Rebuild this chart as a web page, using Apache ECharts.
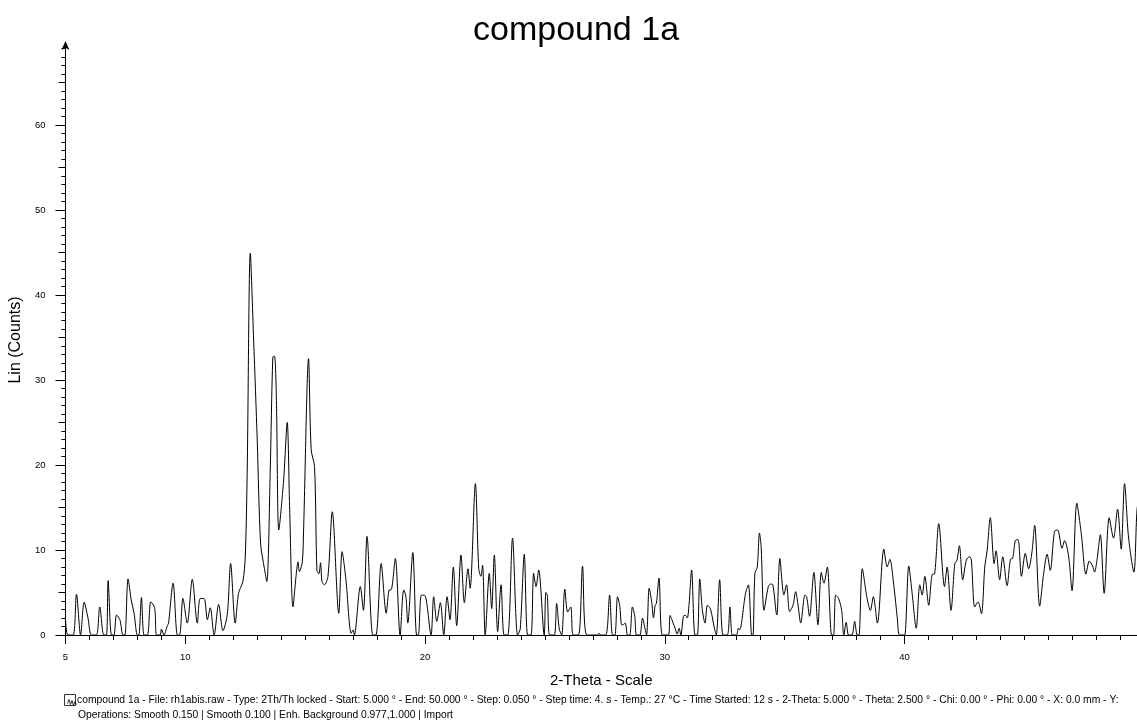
<!DOCTYPE html>
<html>
<head>
<meta charset="utf-8">
<script src="https://cdn.jsdelivr.net/npm/echarts@6/dist/echarts.min.js"></script>
<style>
html,body{margin:0;padding:0;background:#fff;}
#chart{width:1137px;height:724px;}
</style>
</head>
<body>
<div id="chart"></div>
<script>
// 2-Theta positions (degrees) of the traced pattern points
const twoTheta = [
5.00,5.10,5.32,5.46,5.63,5.78,5.94,6.08,6.29,6.43,6.60,6.71,6.78,6.92,7.02,7.13,7.27,7.40,7.48,7.61,
7.75,7.86,8.00,8.06,8.17,8.28,8.42,8.56,8.72,8.80,8.95,9.00,9.11,9.25,9.30,9.49,9.67,9.76,9.90,10.08,
10.29,10.50,10.62,10.78,10.92,11.04,11.20,11.39,11.57,11.75,11.89,12.08,12.22,12.40,12.50,12.58,12.71,12.85,13.00,13.14,
13.30,13.40,13.54,13.65,13.72,13.80,13.90,14.10,14.25,14.35,14.49,14.63,14.70,14.76,14.88,14.93,15.14,15.25,15.39,15.49,
15.57,15.64,15.70,15.80,15.95,16.13,16.40,16.54,16.70,16.92,17.00,17.05,17.30,17.43,17.58,17.82,17.95,18.17,18.38,18.51,
18.58,18.76,18.96,19.11,19.20,19.28,19.49,19.65,19.72,19.85,20.01,20.25,20.36,20.49,20.64,20.78,20.92,21.04,21.18,21.32,
21.50,21.64,21.79,21.88,22.10,22.24,22.33,22.40,22.51,22.68,22.78,22.89,23.03,23.17,23.30,23.45,23.65,23.86,23.97,24.14,
24.28,24.42,24.53,24.63,24.74,24.97,25.04,25.10,25.20,25.39,25.49,25.60,25.70,25.83,25.95,26.08,26.18,26.40,26.57,26.75,
27.20,27.26,27.32,27.54,27.70,27.82,27.92,28.03,28.12,28.20,28.25,28.35,28.45,28.54,28.65,28.75,28.82,28.96,29.07,29.13,
29.24,29.35,29.46,29.53,29.60,29.65,29.76,29.90,30.15,30.22,30.35,30.43,30.52,30.60,30.67,30.80,30.87,30.94,31.01,31.12,
31.26,31.36,31.46,31.57,31.68,31.78,31.90,31.99,32.07,32.15,32.29,32.43,32.61,32.72,32.82,32.99,33.07,33.12,33.37,33.49,
33.63,33.68,33.76,33.86,33.95,34.02,34.14,34.32,34.42,34.51,34.65,34.68,34.80,34.97,35.08,35.21,35.35,35.46,35.57,35.67,
35.85,35.92,36.04,36.22,36.39,36.53,36.64,36.78,36.96,37.04,37.13,37.25,37.38,37.47,37.57,37.67,37.81,37.92,38.03,38.10,
38.24,38.44,38.58,38.70,38.87,39.14,39.28,39.39,39.56,39.70,39.79,39.93,40.01,40.18,40.32,40.49,40.64,40.74,40.85,41.01,
41.15,41.26,41.43,41.67,41.78,41.94,42.10,42.19,42.29,42.43,42.58,42.71,42.79,42.93,43.07,43.21,43.35,43.45,43.58,43.74,
43.82,43.97,44.10,44.28,44.42,44.51,44.65,44.74,44.88,45.04,45.18,45.32,45.43,45.64,45.80,45.95,46.08,46.26,46.39,46.57,
46.68,46.85,46.99,47.19,47.38,47.57,47.71,47.85,47.93,48.03,48.17,48.33,48.54,48.72,48.89,49.04,49.18,49.35,49.57,49.70,
49.80
];
// Intensity (Lin counts) at those positions
const counts = [
2.0,0,0,4.8,0,3.85,2.0,0,0,3.3,0,0,6.4,0,0,2.35,1.8,0,0,6.6,
4.0,2.6,0,0,4.4,0,0,3.9,3.2,0,0,0.7,0,1.1,1.4,6.1,0,0,4.3,1.4,
6.55,1.4,4.3,4.3,1.8,3.2,0,3.6,0.5,2.4,8.4,1.4,4.9,6.3,9.2,19,44.9,34.7,22.9,10.8,
7.8,6.3,19,32.7,32.8,27.6,12.35,18.2,25,15.1,3.3,7.25,8.6,7.45,8.6,12,32.5,21.8,19.8,7.6,
7.2,8.5,6.3,5.9,6.9,14.5,2.55,9.8,6.5,0.2,0.6,0,5.7,2.9,11.6,0,0,8.4,2.55,5.3,
5.3,9.0,0,5.3,4.6,1.4,9.7,0,0,4.7,4.6,0,4.5,1.6,3.8,0,4.5,1.8,8.0,1.1,
9.4,3.8,7.8,5.5,17.8,7.8,6.9,8.2,0,7.25,3.1,9.4,0.4,5.9,0,0,11.4,0,0.7,9.5,
0,0,7.25,5.7,7.65,0,5.0,4.7,0,0,3.7,0.7,0,5.4,2.7,3.3,0,0,8.1,0,
0,0.2,0,0,4.7,0,0,4.5,3.5,1.2,1.2,1.4,0,0,3.3,2.2,0,0,2.0,1.4,
0,5.5,3.8,2.0,3.5,3.7,6.7,0,0,2.3,1.4,0.8,0.1,0.8,0,2.3,2.3,2.0,3.5,7.65,
0,0,6.6,2.9,1.4,3.5,3.1,2.0,0.8,0,6.5,0,0,3.3,0,0,0.8,0.6,4.9,5.9,
0,0,7.25,8.0,12.0,10.4,2.9,5.7,6.0,5.9,2.55,2.35,9.0,4.7,5.9,2.75,3.5,5.1,3.3,1.4,
4.7,4.5,2.2,7.35,1.2,7.35,6.1,8.0,0,0,4.7,4.3,2.9,0,1.5,0,0,1.6,0,0,
7.8,4.3,2.9,4.5,1.4,10.1,8.0,8.9,5.7,2.0,0,0,0,8.1,4.9,0.8,5.9,4.7,6.9,3.5,
7.1,7.2,13.1,5.7,8.0,2.9,8.4,8.8,10.5,6.5,8.8,9.2,8.8,3.3,3.9,2.5,8.0,10.0,13.8,8.4,
9.9,6.5,9.2,5.8,8.9,9.0,11.2,11.2,6.9,9.6,7.8,9.8,12.9,3.4,7.1,9.5,7.6,12.2,12.35,10.2,
11.1,9.2,5.2,15.5,11.8,7.15,8.7,8.1,7.4,8.8,11.8,4.9,13.8,11.4,14.8,10.1,17.8,11.4,7.4,14.7,
16.5
];
const xLabelValues = [5,10,20,30,40];
const yLabelValues = [0,10,20,30,40,50,60];
const titleText = 'compound 1a';
const xName = '2-Theta - Scale';
const yName = 'Lin (Counts)';
const legendLine1 = 'compound 1a - File: rh1abis.raw - Type: 2Th/Th locked - Start: 5.000 ° - End: 50.000 ° - Step: 0.050 ° - Step time: 4. s - Temp.: 27 °C - Time Started: 12 s - 2-Theta: 5.000 ° - Theta: 2.500 ° - Chi: 0.00 ° - Phi: 0.00 ° - X: 0.0 mm - Y:';
const legendLine2 = 'Operations: Smooth 0.150 | Smooth 0.100 | Enh. Background 0.977,1.000 | Import';

const X_MIN = 5, X_MAX = 49.7, Y_MIN = 0, Y_MAX = 69.4;
const FONT = '"Liberation Sans", Arial, Helvetica, sans-serif';

const xUnitTicks = []; for (let v = 5; v <= 49; v++) xUnitTicks.push(v);
const yUnitTicks = []; for (let v = 0; v <= 69; v++) yUnitTicks.push(v);
const yHalfTicks = []; for (let v = 5; v <= 65; v += 10) yHalfTicks.push(v);

const data = twoTheta.map((x, i) => [x, counts[i]]);

const chart = echarts.init(document.getElementById('chart'), null, {renderer: 'canvas'});
const hiddenAxisBase = {
  axisLine: {show: false}, splitLine: {show: false}, axisLabel: {show: false}
};
chart.setOption({
  animation: false,
  backgroundColor: '#ffffff',
  title: {
    text: titleText, left: 468, top: 9,
    textStyle: {fontFamily: FONT, fontSize: 34, fontWeight: 'normal', color: '#000'}
  },
  grid: {left: 64, right: 0, top: 45, bottom: 89, containLabel: false},
  xAxis: [
    {
      type: 'value', min: X_MIN, max: X_MAX,
      name: xName, nameLocation: 'middle', nameGap: 38,
      nameTextStyle: {fontFamily: FONT, fontSize: 15, color: '#000'},
      axisLine: {show: true, onZero: false, lineStyle: {color: '#000', width: 1}},
      axisTick: {show: true, customValues: xLabelValues, length: 9, inside: false, lineStyle: {color: '#000'}},
      axisLabel: {show: true, customValues: xLabelValues, margin: 17, fontFamily: FONT, fontSize: 9.5, color: '#000'},
      splitLine: {show: false}
    },
    Object.assign({
      type: 'value', min: X_MIN, max: X_MAX, position: 'bottom',
      axisTick: {show: true, customValues: xUnitTicks, length: 5, lineStyle: {color: '#000'}}
    }, hiddenAxisBase)
  ],
  yAxis: [
    {
      type: 'value', min: Y_MIN, max: Y_MAX,
      name: yName, nameLocation: 'middle', nameGap: 37, nameRotate: 90,
      nameTextStyle: {fontFamily: FONT, fontSize: 16, color: '#000'},
      axisLine: {show: true, onZero: false, symbol: ['none', 'arrow'], symbolSize: [6, 9], symbolOffset: [0, 4], lineStyle: {color: '#000', width: 1}},
      axisTick: {show: true, customValues: yLabelValues, length: 10, lineStyle: {color: '#000'}},
      axisLabel: {show: true, customValues: yLabelValues, margin: 20, fontFamily: FONT, fontSize: 9.5, color: '#000'},
      splitLine: {show: false}
    },
    Object.assign({
      type: 'value', min: Y_MIN, max: Y_MAX, position: 'left',
      axisTick: {show: true, customValues: yHalfTicks, length: 7, lineStyle: {color: '#000'}}
    }, hiddenAxisBase),
    Object.assign({
      type: 'value', min: Y_MIN, max: Y_MAX, position: 'left',
      axisTick: {show: true, customValues: yUnitTicks, length: 4, lineStyle: {color: '#000'}}
    }, hiddenAxisBase)
  ],
  series: [{
    type: 'line', data: data, xAxisIndex: 0, yAxisIndex: 0,
    showSymbol: false, smooth: 0.3, clip: true,
    lineStyle: {color: '#000', width: 1}
  }],
  graphic: [
    {type: 'rect', left: 64, top: 694, shape: {x: 0, y: 0, width: 11, height: 11}, style: {fill: '#fff', stroke: '#333', lineWidth: 1}},
    {type: 'polyline', left: 65, top: 697, shape: {points: [[0,5],[1.5,1],[3,6],[4.5,2],[6,7],[7.5,3],[9,6]]}, style: {fill: null, stroke: '#000', lineWidth: 0.8}},
    {type: 'text', left: 77, top: 695, style: {text: legendLine1, fontFamily: FONT, fontSize: 10.3, fill: '#000'}},
    {type: 'text', left: 78, top: 710, style: {text: legendLine2, fontFamily: FONT, fontSize: 10.3, fill: '#000'}}
  ]
});
</script>
</body>
</html>
